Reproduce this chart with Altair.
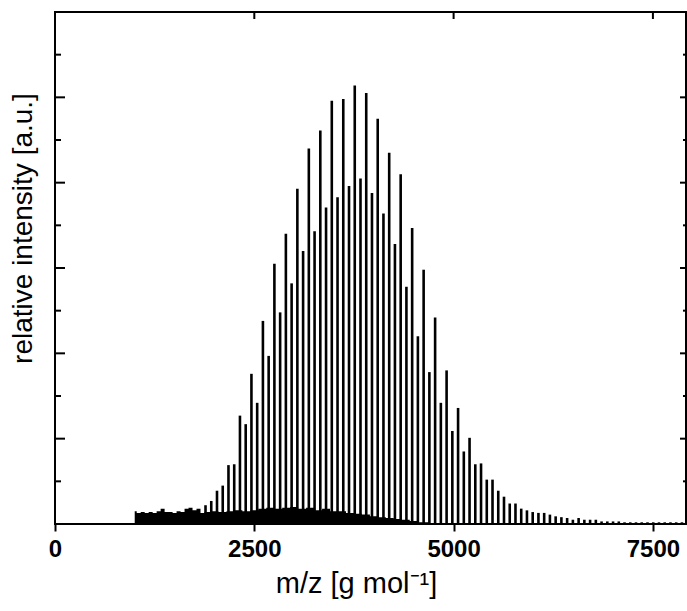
import altair as alt
import pandas as pd

# ---- data (m/z in g/mol, intensity in a.u.) ----
main_mz = [1888, 2032, 2176, 2320, 2464, 2608, 2752, 2896, 3040, 3184, 3328, 3472,
           3616, 3760, 3904, 4048, 4192, 4336, 4480, 4624, 4768, 4912, 5056, 5200,
           5344, 5488, 5632, 5776, 5920, 6064, 6208, 6352, 6496, 6640, 6784, 6928,
           7072, 7216, 7360, 7504, 7648, 7792]
main_int = [0.22, 0.39, 0.69, 1.27, 1.76, 2.38, 3.05, 3.40, 3.93, 4.40, 4.61, 4.96,
            4.98, 5.14, 5.05, 4.75, 4.35, 4.10, 3.47, 2.98, 2.42, 1.80, 1.36, 1.01,
            0.71, 0.52, 0.32, 0.24, 0.16, 0.13, 0.11, 0.08, 0.05, 0.05, 0.05, 0.03,
            0.03, 0.02, 0.02, 0.02, 0.02, 0.02]

side_mz = [1960, 2104, 2248, 2392, 2536, 2680, 2824, 2968, 3112, 3256, 3400, 3544,
           3688, 3832, 3976, 4120, 4264, 4408, 4552, 4696, 4840, 4984, 5128, 5272,
           5416, 5560, 5704, 5848, 5992, 6136, 6280, 6424, 6568, 6712, 6856, 7000,
           7144, 7288, 7432, 7576, 7720, 7864]
side_int = [0.27, 0.45, 0.70, 1.17, 1.42, 1.97, 2.48, 2.82, 3.20, 3.43, 3.71, 3.83,
            3.96, 4.05, 3.88, 3.64, 3.28, 2.78, 2.20, 1.78, 1.42, 1.09, 0.85, 0.70,
            0.52, 0.39, 0.24, 0.18, 0.14, 0.13, 0.09, 0.07, 0.07, 0.05, 0.03, 0.03,
            0.02, 0.02, 0.02, 0.02, 0.02, 0.02]

# baseline noise envelope
noise_mz = [1000, 1050, 1100, 1150, 1200, 1250, 1300, 1350, 1400, 1450, 1500, 1550,
            1600, 1650, 1700, 1750, 1800, 1850, 1900, 2000, 2100, 2200, 2300, 2400,
            2500, 2600, 2700, 2800, 2900, 3000, 3100, 3200, 3300, 3400, 3500, 3600,
            3700, 3800, 3900, 4000, 4100, 4200, 4300, 4400, 4500, 4600, 4800, 5000]
noise_int = [0.15, 0.13, 0.14, 0.13, 0.14, 0.13, 0.15, 0.18, 0.14, 0.14, 0.13, 0.15,
             0.14, 0.18, 0.19, 0.16, 0.18, 0.13, 0.14, 0.15, 0.14, 0.15, 0.16, 0.15,
             0.16, 0.18, 0.19, 0.18, 0.19, 0.20, 0.18, 0.19, 0.16, 0.18, 0.15, 0.15,
             0.13, 0.12, 0.11, 0.09, 0.08, 0.07, 0.06, 0.05, 0.035, 0.02, 0.01, 0.0]

x_ticks = [0, 2500, 5000, 7500]
y_major = [1, 2, 3, 4, 5]
y_minor = [0.5, 1.5, 2.5, 3.5, 4.5, 5.5]

W, H = 631, 512
X_MAX = 7915
FONT = "Liberation Sans"

xs = alt.Scale(domain=[0, X_MAX], nice=False, zero=False)
ys = alt.Scale(domain=[0, 6], nice=False, zero=False)

xaxis = alt.Axis(values=x_ticks, format="d", grid=False, domain=False,
                 labelFont=FONT, labelFontSize=24, labelFontWeight="bold",
                 labelColor="black", labelPadding=6, labelFlush=False,
                 tickColor="black", tickSize=7, tickWidth=2,
                 title="m/z [g mol⁻¹]", titleFont=FONT, titleFontSize=29,
                 titleFontWeight="normal", titleColor="black", titlePadding=8,
                 titleX=301, titleAlign="center")
yaxis = alt.Axis(ticks=False, labels=False, domain=False, grid=False,
                 title="relative intensity [a.u.]", titleFont=FONT,
                 titleFontSize=28, titleFontWeight="normal", titleColor="black",
                 titleX=-18, titleY=216, titleAngle=-90, titleBaseline="bottom",
                 titleAlign="center")

peaks = pd.DataFrame({"mz": main_mz + side_mz, "intensity": main_int + side_int})
noise = pd.DataFrame({"mz": noise_mz, "intensity": noise_int})
xt = pd.DataFrame({"mz": x_ticks})
ymaj = pd.DataFrame({"intensity": y_major})
ymin = pd.DataFrame({"intensity": y_minor})

X = alt.X("mz:Q", scale=xs, axis=xaxis)
Y = alt.Y("intensity:Q", scale=ys, axis=yaxis)

noise_layer = alt.Chart(noise).mark_area(color="black", interpolate="step").encode(x=X, y=Y)
peak_layer = alt.Chart(peaks).mark_rule(color="black", strokeWidth=2.6).encode(
    x=X, y=Y, y2=alt.datum(0))

top_ticks = alt.Chart(xt).mark_rule(color="black", strokeWidth=2).encode(
    x=X, y=alt.value(0), y2=alt.value(7))
left_major = alt.Chart(ymaj).mark_rule(color="black", strokeWidth=2).encode(
    y=Y, x=alt.value(0), x2=alt.value(10))
left_minor = alt.Chart(ymin).mark_rule(color="black", strokeWidth=2).encode(
    y=Y, x=alt.value(0), x2=alt.value(6))
right_major = alt.Chart(ymaj).mark_rule(color="black", strokeWidth=2).encode(
    y=Y, x=alt.value(W - 6), x2=alt.value(W))
right_minor = alt.Chart(ymin).mark_rule(color="black", strokeWidth=2).encode(
    y=Y, x=alt.value(W - 3), x2=alt.value(W))

chart = alt.layer(noise_layer, peak_layer, top_ticks, left_major, left_minor,
                  right_major, right_minor).properties(
    width=W, height=H,
    padding={"left": 55, "top": 12, "right": 1, "bottom": 87},
    autosize=alt.AutoSizeParams(type="none"),
    background="white",
).configure_view(stroke="black", strokeWidth=2)

chart.save("out.html", embed_options={"renderer": "svg", "actions": False})
